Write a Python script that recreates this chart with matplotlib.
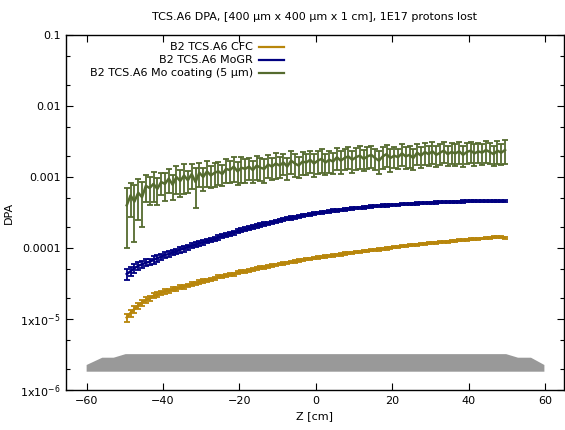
import numpy as np
import matplotlib
matplotlib.use("Agg")
import matplotlib.pyplot as plt
from matplotlib.ticker import LogLocator, FixedLocator, FixedFormatter, NullFormatter

# ---------------- data ----------------
z = np.arange(-49.5, 50.0, 1.0)  # bin centres [cm]

# B2 TCS.A6 CFC  (units of 1e-5 DPA)
cfc = [1.05, 1.22, 1.38, 1.55, 1.70, 1.86, 1.95, 2.12, 2.20, 2.35,
       2.45, 2.50, 2.62, 2.66, 2.80, 2.86, 2.98, 3.10, 3.18, 3.32,
       3.45, 3.50, 3.62, 3.70, 3.92, 4.00, 4.10, 4.25, 4.30, 4.50,
       4.62, 4.70, 4.85, 4.95, 5.15, 5.30, 5.35, 5.55, 5.62, 5.80,
       5.95, 6.05, 6.20, 6.35, 6.50, 6.70, 6.75, 6.95, 7.05, 7.20,
       7.35, 7.40, 7.60, 7.70, 7.85, 8.05, 8.10, 8.35, 8.45, 8.60,
       8.80, 8.85, 9.05, 9.10, 9.30, 9.45, 9.55, 9.75, 9.85, 10.1,
       10.3, 10.3, 10.6, 10.7, 10.9, 11.1, 11.2, 11.4, 11.5, 11.7,
       11.9, 11.9, 12.1, 12.2, 12.3, 12.5, 12.6, 12.8, 12.9, 13.1,
       13.2, 13.3, 13.5, 13.6, 13.8, 13.9, 14.2, 14.3, 14.2, 14.0]
cfc_err = [0.14, 0.14, 0.15, 0.15, 0.16, 0.16, 0.16, 0.17, 0.17, 0.17,
           0.17, 0.17, 0.18, 0.17, 0.18, 0.18, 0.18, 0.19, 0.19, 0.19,
           0.19, 0.19, 0.20, 0.20, 0.20, 0.20, 0.21, 0.21, 0.21, 0.21,
           0.22, 0.22, 0.22, 0.23, 0.23, 0.23, 0.23, 0.24, 0.24, 0.24,
           0.25, 0.25, 0.25, 0.26, 0.26, 0.26, 0.26, 0.27, 0.27, 0.27,
           0.27, 0.28, 0.28, 0.28, 0.29, 0.29, 0.29, 0.30, 0.30, 0.30,
           0.31, 0.31, 0.31, 0.32, 0.32, 0.32, 0.33, 0.33, 0.33, 0.34,
           0.34, 0.34, 0.35, 0.35, 0.35, 0.36, 0.36, 0.36, 0.37, 0.37,
           0.37, 0.38, 0.38, 0.38, 0.39, 0.39, 0.39, 0.40, 0.40, 0.40,
           0.41, 0.41, 0.41, 0.42, 0.42, 0.42, 0.43, 0.43, 0.43, 0.43]

# B2 TCS.A6 MoGR  (units of 1e-4 DPA)
mogr = [0.43, 0.47, 0.52, 0.56, 0.59, 0.62, 0.64, 0.68, 0.72, 0.75,
        0.80, 0.82, 0.87, 0.89, 0.95, 0.98, 1.03, 1.08, 1.11, 1.17,
        1.20, 1.25, 1.30, 1.34, 1.41, 1.48, 1.52, 1.58, 1.65, 1.72,
        1.78, 1.84, 1.90, 1.98, 2.05, 2.12, 2.18, 2.24, 2.30, 2.38,
        2.45, 2.52, 2.58, 2.65, 2.72, 2.80, 2.85, 2.92, 2.98, 3.05,
        3.12, 3.16, 3.22, 3.28, 3.35, 3.40, 3.45, 3.50, 3.56, 3.60,
        3.66, 3.70, 3.74, 3.78, 3.84, 3.88, 3.90, 3.95, 3.98, 4.02,
        4.06, 4.08, 4.12, 4.15, 4.18, 4.22, 4.24, 4.28, 4.30, 4.33,
        4.36, 4.38, 4.40, 4.42, 4.44, 4.46, 4.48, 4.50, 4.52, 4.55,
        4.56, 4.57, 4.56, 4.56, 4.55, 4.55, 4.54, 4.55, 4.55, 4.55]
mogr_err = [0.07, 0.07, 0.07, 0.07, 0.07, 0.07, 0.07, 0.08, 0.08, 0.08,
            0.08, 0.08, 0.08, 0.08, 0.09, 0.09, 0.09, 0.09, 0.09, 0.09,
            0.09, 0.09, 0.10, 0.10, 0.10, 0.10, 0.10, 0.10, 0.11, 0.11,
            0.11, 0.11, 0.11, 0.11, 0.11, 0.12, 0.12, 0.12, 0.12, 0.12,
            0.12, 0.12, 0.12, 0.13, 0.13, 0.13, 0.13, 0.13, 0.13, 0.13,
            0.13, 0.13, 0.13, 0.14, 0.14, 0.14, 0.14, 0.14, 0.14, 0.14,
            0.14, 0.14, 0.14, 0.14, 0.14, 0.15, 0.15, 0.15, 0.15, 0.15,
            0.15, 0.15, 0.15, 0.15, 0.15, 0.15, 0.15, 0.15, 0.15, 0.15,
            0.15, 0.15, 0.15, 0.15, 0.15, 0.15, 0.15, 0.15, 0.15, 0.15,
            0.15, 0.15, 0.15, 0.15, 0.15, 0.15, 0.15, 0.15, 0.15, 0.15]

# B2 TCS.A6 Mo coating (5 um)  (units of 1e-3 DPA)
moc = [0.40, 0.55, 0.45, 0.60, 0.52, 0.75, 0.70, 0.80, 0.68, 0.85,
       0.80, 0.95, 0.78, 1.00, 0.88, 1.05, 0.90, 1.10, 0.85, 1.15,
       1.00, 1.20, 1.05, 1.15, 1.20, 1.10, 1.30, 1.25, 1.40, 1.20,
       1.35, 1.30, 1.40, 1.25, 1.45, 1.35, 1.30, 1.50, 1.40, 1.55,
       1.45, 1.60, 1.40, 1.70, 1.55, 1.45, 1.65, 1.60, 1.75, 1.55,
       1.70, 1.80, 1.60, 1.75, 1.65, 1.90, 1.70, 1.85, 1.95, 1.75,
       1.90, 2.00, 1.80, 1.95, 2.05, 1.85, 1.70, 1.95, 2.10, 1.85,
       2.00, 1.90, 2.15, 1.95, 2.05, 1.85, 2.20, 2.00, 2.25, 2.10,
       2.30, 2.05, 2.20, 2.35, 2.10, 2.25, 2.15, 2.30, 2.05, 2.25,
       2.35, 2.15, 2.30, 2.20, 2.40, 2.25, 2.10, 2.35, 2.20, 2.40]
moc_err = [0.30, 0.28, 0.33, 0.35, 0.32, 0.30, 0.30, 0.36, 0.28, 0.30,
           0.34, 0.36, 0.30, 0.42, 0.36, 0.48, 0.30, 0.42, 0.48, 0.42,
           0.36, 0.48, 0.36, 0.42, 0.42, 0.36, 0.48, 0.42, 0.54, 0.42,
           0.54, 0.48, 0.48, 0.42, 0.54, 0.48, 0.48, 0.54, 0.48, 0.60,
           0.48, 0.54, 0.48, 0.60, 0.54, 0.48, 0.60, 0.54, 0.60, 0.54,
           0.60, 0.66, 0.54, 0.60, 0.54, 0.66, 0.60, 0.60, 0.66, 0.60,
           0.66, 0.72, 0.60, 0.66, 0.72, 0.60, 0.60, 0.66, 0.72, 0.66,
           0.66, 0.60, 0.72, 0.66, 0.72, 0.60, 0.72, 0.66, 0.78, 0.66,
           0.78, 0.66, 0.72, 0.78, 0.66, 0.72, 0.72, 0.78, 0.66, 0.72,
           0.78, 0.72, 0.72, 0.72, 0.84, 0.72, 0.66, 0.84, 0.72, 0.90]

# collimator jaw outline (schematic), z [cm] and y [DPA-axis units]
jaw_z = [-60, -60, -55.9, -52.9, -49.8, 49.8, 52.9, 56.3, 59.8, 59.8]
jaw_y = [1.81e-6, 2.25e-6, 2.85e-6, 2.85e-6, 3.2e-6, 3.2e-6, 2.85e-6, 2.85e-6, 2.25e-6, 1.81e-6]

labels = ["B2 TCS.A6 CFC", "B2 TCS.A6 MoGR", "B2 TCS.A6 Mo coating (5 µm)"]
colors = ["#b8860b", "#000080", "#556b2f"]
title = "TCS.A6 DPA, [400 µm x 400 µm x 1 cm], 1E17 protons lost"

ytick_vals = [1e-6, 1e-5, 1e-4, 1e-3, 1e-2, 1e-1]
ytick_labels = ["1x10$^{-6}$", "1x10$^{-5}$", "0.0001", "0.001", "0.01", "0.1"]
xtick_vals = [-60, -40, -20, 0, 20, 40, 60]

# ---------------- plot ----------------
plt.rcParams['font.family'] = ['DejaVu Sans']
plt.rcParams['mathtext.default'] = 'regular'
fig = plt.figure(figsize=(5.65, 4.30), dpi=100)
ax = fig.add_axes([66/565, 1-390/430, (563.5-66)/565, 355/430])

ax.fill(jaw_z, jaw_y, color="#999999", lw=0, zorder=1)

series = [(np.array(cfc) * 1e-5, np.array(cfc_err) * 1e-5),
          (np.array(mogr) * 1e-4, np.array(mogr_err) * 1e-4),
          (np.array(moc) * 1e-3, np.array(moc_err) * 1e-3)]
for (vals, errs), col in zip(series, colors):
    ax.errorbar(z, vals, yerr=errs, fmt='-', color=col, lw=1.8,
                elinewidth=1.3, capsize=2.2, capthick=1.3, zorder=3)

ax.set_yscale('log')
ax.set_ylim(1e-6, 0.1)
ax.set_xlim(-65.4, 64.8)
ax.yaxis.set_major_locator(FixedLocator(ytick_vals))
ax.yaxis.set_major_formatter(FixedFormatter(ytick_labels))
ax.yaxis.set_minor_locator(LogLocator(base=10, subs=(2.0, 5.0), numticks=20))
ax.yaxis.set_minor_formatter(NullFormatter())
ax.set_xticks(xtick_vals)
ax.tick_params(which='both', direction='in', top=True, right=True, labelsize=8, width=0.8)
ax.tick_params(which='major', length=5, pad=4)
ax.tick_params(which='minor', length=3)
for sp in ax.spines.values():
    sp.set_linewidth(1.0)

ax.set_title(title, fontsize=8, pad=11)
ax.set_xlabel("Z [cm]", fontsize=8, labelpad=4)
ax.set_ylabel("DPA", fontsize=8, labelpad=4)

# legend (gnuplot style: right-aligned text, sample line on right)
leg_y = [0.966, 0.930, 0.893]
for lab, col, yy in zip(labels, colors, leg_y):
    ax.text(0.376, yy, lab, transform=ax.transAxes, ha='right', va='center', fontsize=8)
    ax.plot([0.388, 0.438], [yy, yy], transform=ax.transAxes, color=col, lw=1.6)

fig.savefig("out.png", dpi=100)
